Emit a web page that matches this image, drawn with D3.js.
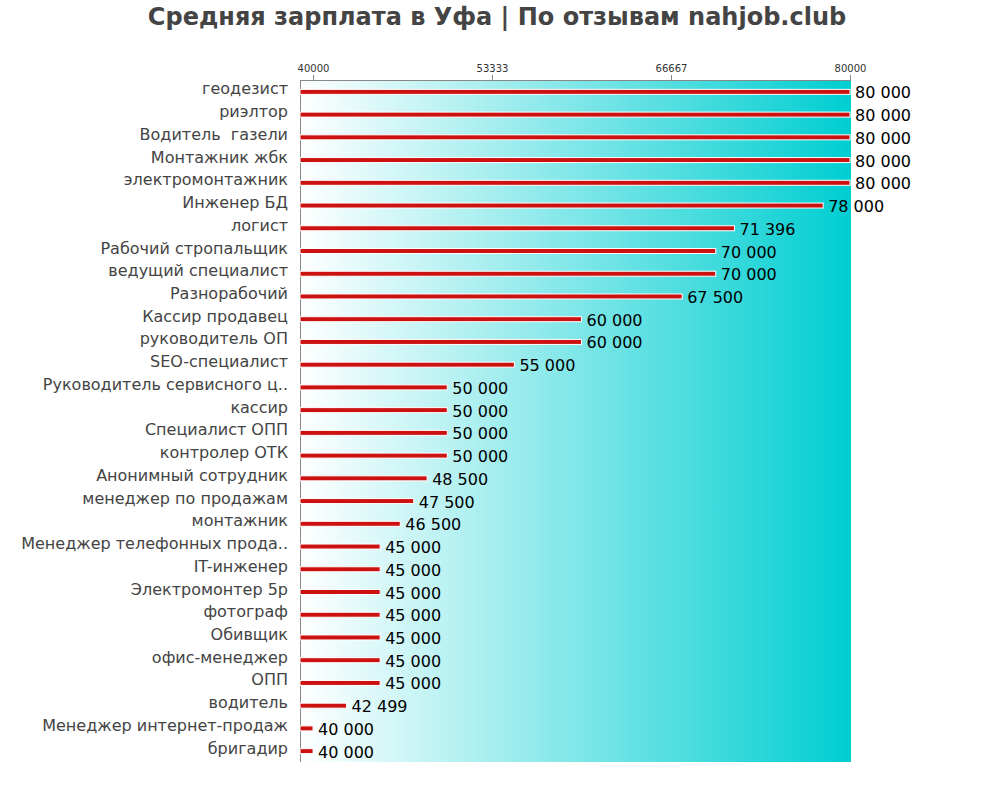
<!DOCTYPE html>
<html>
<head>
<meta charset="utf-8">
<script src="https://cdn.jsdelivr.net/npm/d3@7"></script>
<style>
  body { margin: 0; background: #fff; }
  svg { font-family: "DejaVu Sans", sans-serif; }
</style>
</head>
<body>
<svg id="chart" width="1000" height="800"></svg>
<script>
var categories = [
  "геодезист", "риэлтор", "Водитель  газели", "Монтажник жбк", "электромонтажник",
  "Инженер БД", "логист", "Рабочий стропальщик", "ведущий специалист", "Разнорабочий",
  "Кассир продавец", "руководитель ОП", "SEO-специалист", "Руководитель сервисного ц..",
  "кассир", "Специалист ОПП", "контролер ОТК", "Анонимный сотрудник",
  "менеджер по продажам", "монтажник", "Менеджер телефонных прода..", "IT-инженер",
  "Электромонтер 5р", "фотограф", "Обивщик", "офис-менеджер", "ОПП", "водитель",
  "Менеджер интернет-продаж", "бригадир"
];
var salaries = [
  80000, 80000, 80000, 80000, 80000, 78000, 71396, 70000, 70000, 67500,
  60000, 60000, 55000, 50000, 50000, 50000, 50000, 48500, 47500, 46500,
  45000, 45000, 45000, 45000, 45000, 45000, 45000, 42499, 40000, 40000
];
var tickValues = [40000, 53333, 66667, 80000];

var svg = d3.select("#chart");
var plotLeft = 300, plotRight = 851, plotTop = 80, plotBottom = 762;

var x = d3.scaleLinear().domain([39030, 80000]).range([plotLeft, 850]);
var y = d3.scaleBand().domain(categories).range([plotTop, plotBottom]);

// gradient background
var defs = svg.append("defs");
var grad = defs.append("linearGradient").attr("id", "bg")
  .attr("x1", "0").attr("x2", "1").attr("y1", "0").attr("y2", "0");
grad.append("stop").attr("offset", "0").attr("stop-color", "#ffffff");
grad.append("stop").attr("offset", "1").attr("stop-color", "#00ced1");

svg.append("rect")
  .attr("x", plotLeft).attr("y", plotTop)
  .attr("width", plotRight - plotLeft).attr("height", plotBottom - plotTop)
  .attr("fill", "url(#bg)");

// title
svg.append("text")
  .attr("x", 497).attr("y", 25)
  .attr("text-anchor", "middle")
  .attr("font-size", 24).attr("font-weight", "bold")
  .attr("fill", "#444")
  .text("Средняя зарплата в Уфа | По отзывам nahjob.club");

// top axis
var axis = d3.axisTop(x).tickValues(tickValues).tickFormat(d3.format("d")).tickSize(5);
var ag = svg.append("g").attr("transform", "translate(0," + plotTop + ")").call(axis);
ag.select(".domain").attr("stroke", "#888").attr("d", "M" + plotLeft + ",0.5H" + plotRight);
ag.selectAll(".tick line").attr("stroke", "#888");
ag.selectAll(".tick text").attr("font-size", 10).attr("fill", "#333")
  .attr("font-family", "DejaVu Sans, sans-serif");

// left axis line
svg.append("line")
  .attr("x1", plotLeft + 0.5).attr("x2", plotLeft + 0.5).attr("y1", plotTop).attr("y2", plotBottom)
  .attr("stroke", "#888");

var rows = svg.append("g").selectAll("g").data(categories).enter().append("g");

rows.append("rect")
  .attr("x", plotLeft)
  .attr("y", function (d) { return y(d) + y.bandwidth() / 2 + 1 - 3; })
  .attr("width", function (d, i) { return x(salaries[i]) - plotLeft; })
  .attr("height", 5)
  .attr("fill", "#cc1111")
  .attr("stroke", "#fff")
  .attr("stroke-width", 1);

rows.append("text")
  .attr("x", 288)
  .attr("y", function (d) { return y(d) + y.bandwidth() / 2 + 3; })
  .attr("text-anchor", "end")
  .attr("font-size", 16)
  .attr("fill", "#444")
  .style("white-space", "pre")
  .text(function (d) { return d; });

var fmt = function (v) { return d3.format(",")(v).replace(/,/g, " "); };
rows.append("text")
  .attr("x", function (d, i) { return x(salaries[i]) + 5; })
  .attr("y", function (d) { return y(d) + y.bandwidth() / 2 + 7; })
  .attr("font-size", 16)
  .attr("fill", "#000")
  .text(function (d, i) { return fmt(salaries[i]); });
</script>
</body>
</html>
